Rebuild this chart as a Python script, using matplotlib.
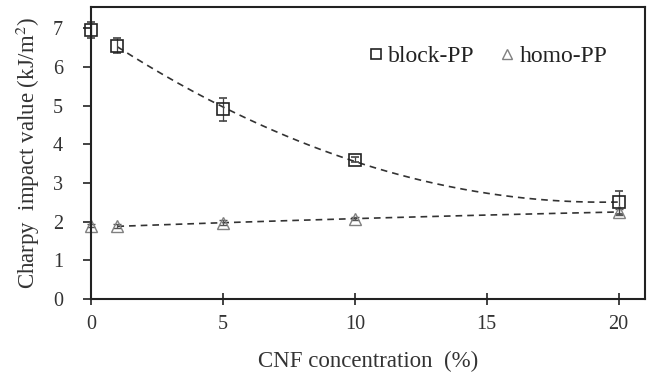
import numpy as np
import matplotlib
matplotlib.use("Agg")
import matplotlib.pyplot as plt
from matplotlib.lines import Line2D

# CNF concentration (%)
cnf = [0, 1, 5, 10, 20]

# Charpy impact values (kJ/m2) and error bars
block_pp = [6.95, 6.55, 4.9, 3.6, 2.5]
block_err = [0.2, 0.2, 0.3, 0.07, 0.3]
homo_pp = [1.9, 1.88, 1.97, 2.08, 2.25]
homo_err = [0.05, 0.05, 0.06, 0.05, 0.08]

plt.rcParams["font.family"] = ["Liberation Serif", "DejaVu Serif"]
plt.rcParams["mathtext.fontset"] = "stix"

fig = plt.figure(figsize=(6.51, 3.72), dpi=100)
ax = fig.add_axes([91 / 651, 1 - 299 / 372, (645 - 91) / 651, (299 - 7) / 372])

# trend lines (quadratic fit, drawn from 1 % to 20 %)
xs = np.linspace(1, 20, 200)
pb = np.polyfit(cnf[1:], block_pp[1:], 2)
ph = np.polyfit(cnf[1:], homo_pp[1:], 2)
ax.plot(xs, np.polyval(pb, xs), ls=(0, (4, 3)), color="#333333", lw=1.2)
ax.plot(xs, np.polyval(ph, xs), ls=(0, (4, 3)), color="#333333", lw=1.2)

eb = ax.errorbar(cnf, homo_pp, yerr=homo_err, fmt="^", ms=8, mfc="none", mec="#808080",
                 mew=1.0, ecolor="#555555", elinewidth=0.9, capsize=3)
for a in [eb[0], *eb[1], *eb[2]]:
    a.set_clip_on(False)
eb = ax.errorbar(cnf, block_pp, yerr=block_err, fmt="s", ms=8, mfc="none", mec="#222222",
                 mew=1.2, ecolor="#444444", elinewidth=0.9, capsize=3)
for a in [eb[0], *eb[1], *eb[2]]:
    a.set_clip_on(False)

ax.set_xlim(0, 21)
ax.set_ylim(0, 7.55)
ax.set_xticks([0, 5, 10, 15, 20])
ax.set_yticks(range(8))
for s in ax.spines.values():
    s.set_linewidth(1.5)
    s.set_color("#222222")
ax.tick_params(direction="inout", length=9, width=1.2, colors="#222222",
               labelsize=14.5, labelcolor="#333333")
ax.tick_params(axis="y", direction="out", length=6, pad=14)
ax.tick_params(axis="x", pad=7)
ax.set_xlabel("CNF concentration  (%)", fontsize=16.5, color="#333333", labelpad=12)
ax.set_ylabel("Charpy  impact value (kJ/m$^2$)", fontsize=16.5, color="#333333", labelpad=8)

handles = [Line2D([], [], ls="none", marker="s", ms=7, mfc="none", mec="#222222", mew=1.2),
           Line2D([], [], ls="none", marker="^", ms=7, mfc="none", mec="#808080", mew=1.0)]
ax.legend(handles, ["block-PP", "homo-PP"], loc="upper right", ncol=2, frameon=False,
          fontsize=17, handletextpad=0.1, columnspacing=1.0, handlelength=0.8,
          bbox_to_anchor=(0.97, 0.94), labelcolor="#222222")

fig.savefig("out.png", dpi=100)
